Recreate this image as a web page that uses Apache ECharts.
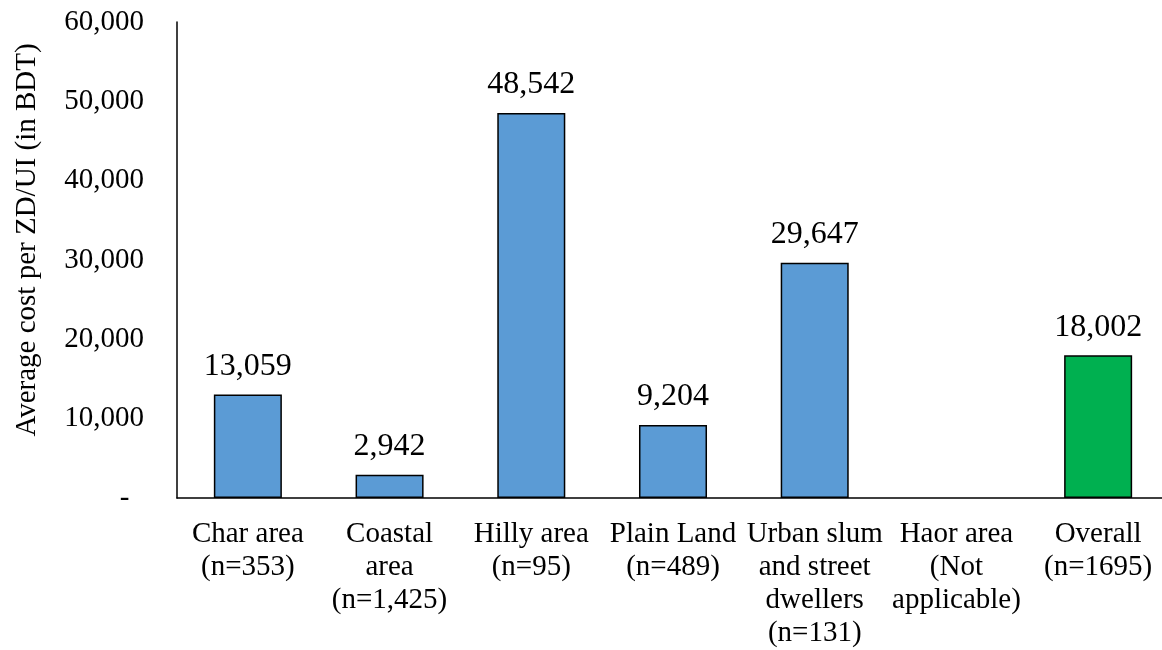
<!DOCTYPE html>
<html>
<head>
<meta charset="utf-8">
<script src="https://cdn.jsdelivr.net/npm/echarts@6/dist/echarts.min.js"></script>
<style>
  html, body { margin: 0; padding: 0; background: #fff; }
  #chart { width: 1162px; height: 650px; }
</style>
</head>
<body>
<div id="chart"></div>
<script>
// 数据
const categories = [
  "Char area\n(n=353)",
  "Coastal\narea\n(n=1,425)",
  "Hilly area\n(n=95)",
  "Plain Land\n(n=489)",
  "Urban slum\nand street\ndwellers\n(n=131)",
  "Haor area\n(Not\napplicable)",
  "Overall\n(n=1695)"
];
const costs = [13059, 2942, 48542, 9204, 29647, null, 18002];
const barColors = ["#5B9BD5", "#5B9BD5", "#5B9BD5", "#5B9BD5", "#5B9BD5", "#5B9BD5", "#00B050"];

const font = "'Liberation Serif', 'Times New Roman', serif";
const fmt = (v) => v.toLocaleString("en-US");

const myChart = echarts.init(document.getElementById("chart"));

myChart.setOption({
  animation: false,
  textStyle: { fontFamily: font, color: "#000" },
  grid: {
    left: 177,
    right: -7,
    top: 22,
    bottom: 152,
    containLabel: false,
    outerBoundsMode: "none"
  },
  xAxis: {
    type: "category",
    data: categories,
    axisLine: { lineStyle: { color: "#000", width: 1.5 } },
    axisTick: { show: false },
    axisLabel: {
      interval: 0,
      color: "#000",
      fontFamily: font,
      fontSize: 29,
      lineHeight: 33,
      margin: 20
    }
  },
  yAxis: {
    type: "value",
    min: 0,
    max: 60000,
    interval: 10000,
    name: "Average cost per ZD/UI (in BDT)",
    nameLocation: "middle",
    nameGap: 135,
    nameTextStyle: {
      color: "#000",
      fontFamily: font,
      fontSize: 29,
      padding: [0, 0, 0, 40]
    },
    axisLine: { show: true, lineStyle: { color: "#000", width: 1.5 } },
    axisTick: { show: false },
    splitLine: { show: false },
    axisLabel: {
      color: "#000",
      fontFamily: font,
      fontSize: 29,
      margin: 33,
      formatter: (v) => (v === 0 ? "-  " : fmt(v))
    }
  },
  series: [
    {
      type: "bar",
      barWidth: "48%",
      data: costs.map((v, i) => ({
        value: v,
        itemStyle: { color: barColors[i] }
      })),
      itemStyle: { borderColor: "#000", borderWidth: 1.5 },
      label: {
        show: true,
        position: "top",
        distance: 12,
        color: "#000",
        fontFamily: font,
        fontSize: 32,
        formatter: (p) => (p.value == null ? "" : fmt(p.value))
      }
    }
  ]
});
</script>
</body>
</html>
